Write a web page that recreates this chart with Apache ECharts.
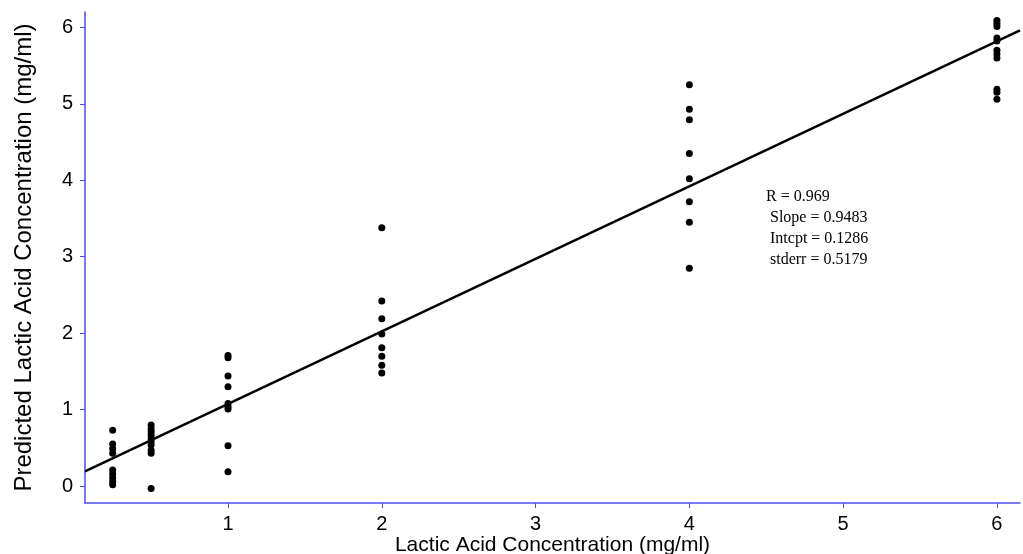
<!DOCTYPE html>
<html>
<head>
<meta charset="utf-8">
<script src="https://cdn.jsdelivr.net/npm/echarts@6/dist/echarts.min.js"></script>
<style>
  html, body { margin: 0; padding: 0; background: #fff; }
  #main { width: 1023px; height: 554px; }
</style>
</head>
<body>
<div id="main"></div>
<script>
const conc025 = [0.73, 0.55, 0.49, 0.43, 0.21, 0.16, 0.11, 0.06, 0.02]
const conc05 = [0.80, 0.75, 0.71, 0.67, 0.62, 0.58, 0.54, 0.47, 0.43, -0.03]
const conc1 = [1.71, 1.68, 1.44, 1.30, 1.08, 1.04, 1.01, 0.53, 0.19]
const conc2 = [3.38, 2.42, 2.19, 1.99, 1.81, 1.70, 1.58, 1.48]
const conc4 = [5.25, 4.93, 4.79, 4.35, 4.02, 3.72, 3.45, 2.85]
const conc6 = [6.09, 6.05, 6.01, 5.86, 5.82, 5.70, 5.65, 5.60, 5.19, 5.15, 5.06]
const levels = [0.25, 0.5, 1, 2, 4, 6]

const fitR = 0.969
const fitSlope = 0.9483
const fitIntercept = 0.1286
const fitStderr = 0.5179

const xTicks = [1, 2, 3, 4, 5, 6]
const yTicks = [0, 1, 2, 3, 4, 5, 6]
const xRange = [0.07, 6.15]
const yRange = [-0.22, 6.2]

const groups = [conc025, conc05, conc1, conc2, conc4, conc6]
const points = []
groups.forEach((g, i) => g.forEach(v => points.push([levels[i], v])))
const fitLine = xRange.map(x => [x, fitSlope * x + fitIntercept])

const axisBlue = '#4d4df0'
const chart = echarts.init(document.getElementById('main'))
chart.setOption({
  animation: false,
  grid: { left: 85, top: 12, right: 3, bottom: 51, outerBoundsMode: 'none', containLabel: false },
  xAxis: {
    type: 'value', min: xRange[0], max: xRange[1],
    name: 'Lactic Acid Concentration (mg/ml)', nameLocation: 'middle', nameGap: 32, nameMoveOverlap: false,
    nameTextStyle: { fontFamily: 'Liberation Sans', fontSize: 21, color: '#000' },
    axisLine: { show: true, onZero: false, lineStyle: { color: axisBlue, width: 1.5 } },
    axisTick: { show: true, customValues: xTicks, length: 5, lineStyle: { color: axisBlue } },
    axisLabel: { customValues: xTicks, margin: 11, fontFamily: 'Liberation Sans', fontSize: 20, color: '#000' },
    splitLine: { show: false }
  },
  yAxis: {
    type: 'value', min: yRange[0], max: yRange[1],
    name: 'Predicted Lactic Acid Concentration (mg/ml)', nameLocation: 'middle', nameGap: 49, nameMoveOverlap: false,
    nameTextStyle: { fontFamily: 'Liberation Sans', fontSize: 24, color: '#000' },
    axisLine: { show: true, onZero: false, lineStyle: { color: axisBlue, width: 1.5 } },
    axisTick: { show: true, customValues: yTicks, length: 5, lineStyle: { color: axisBlue } },
    axisLabel: { customValues: yTicks, margin: 12, fontFamily: 'Liberation Sans', fontSize: 20, color: '#000' },
    splitLine: { show: false }
  },
  series: [
    {
      type: 'scatter', data: points, symbol: 'circle', symbolSize: 7,
      itemStyle: { color: '#000', opacity: 1 }
    },
    {
      type: 'line', data: fitLine, symbol: 'none',
      lineStyle: { color: '#000', width: 2.5 }
    }
  ],
  graphic: [
    {
      type: 'text', left: 766, top: 186,
      style: {
        text: 'R = ' + fitR + '\n Slope = ' + fitSlope + '\n Intcpt = ' + fitIntercept + '\n stderr = ' + fitStderr,
        fontFamily: 'Liberation Serif', fontSize: 16, lineHeight: 21, fill: '#000'
      }
    }
  ]
})
</script>
</body>
</html>
